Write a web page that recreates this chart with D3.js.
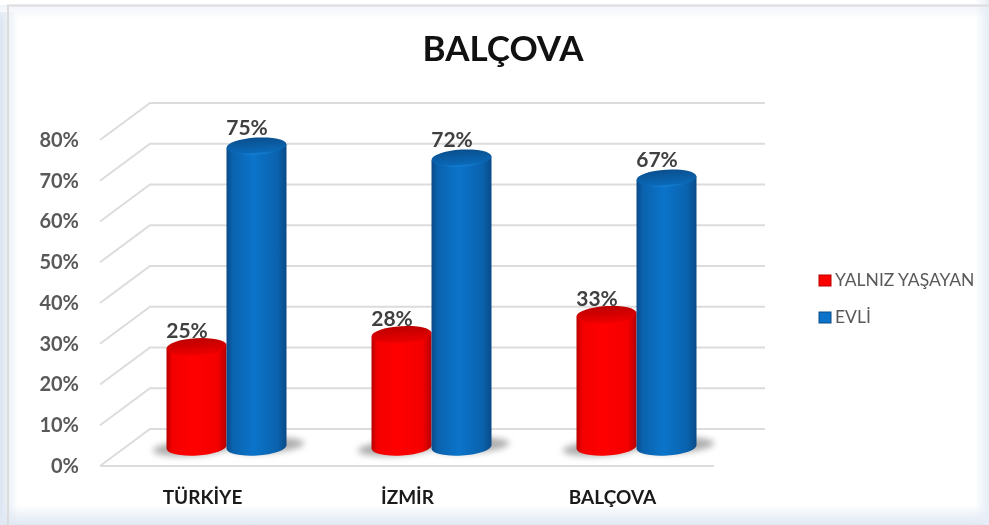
<!DOCTYPE html>
<html>
<head>
<meta charset="utf-8">
<script src="https://cdn.jsdelivr.net/npm/d3@7"></script>
<style>
  html, body { margin: 0; padding: 0; background: #fff; overflow: hidden; }
  text { font-family: Lato, "Open Sans", sans-serif; }
  svg { filter: blur(0.35px); }
</style>
</head>
<body>
<script>
const categories = ["TÜRKİYE", "İZMİR", "BALÇOVA"];
const seriesNames = ["YALNIZ YAŞAYAN", "EVLİ"];
const yalniz = [25, 28, 33];
const evli = [75, 72, 67];
const yTicks = [0, 10, 20, 30, 40, 50, 60, 70, 80];

const width = 989, height = 525;
const colors = {
    "YALNIZ YAŞAYAN": { edge: "#b80000", mid: "#ff0000", side: "#f40000", top: "#e60000", topEdge: "#bd0000", rim: "#f00000" },
    "EVLİ": { edge: "#0a4a88", mid: "#0b74ca", side: "#0a62ad", top: "#0a68b6", topEdge: "#0a4f8e", rim: "#1683d8" }
};

const svg = d3.select("body").append("svg")
    .attr("width", width)
    .attr("height", height)
    .style("display", "block");
const defs = svg.append("defs");

function edgeGradient(id, x2, y2, from) {
    const g = defs.append("linearGradient").attr("id", id)
        .attr("x1", 0).attr("y1", 0).attr("x2", x2).attr("y2", y2);
    g.append("stop").attr("offset", "0%").attr("stop-color", from).attr("stop-opacity", 1);
    g.append("stop").attr("offset", "100%").attr("stop-color", from).attr("stop-opacity", 0);
}
edgeGradient("glowLeft", 1, 0, "#dbe5f1");
edgeGradient("glowTop", 0, 1, "#f0f4fa");

const glowBottom = defs.append("linearGradient").attr("id", "glowBottom")
    .attr("x1", 0).attr("y1", 0).attr("x2", 0).attr("y2", 1);
glowBottom.append("stop").attr("offset", "0%").attr("stop-color", "#dfe8f3").attr("stop-opacity", 0);
glowBottom.append("stop").attr("offset", "100%").attr("stop-color", "#dfe8f3").attr("stop-opacity", 1);

const glowRight = defs.append("linearGradient").attr("id", "glowRight")
    .attr("x1", 0).attr("y1", 0).attr("x2", 1).attr("y2", 0);
glowRight.append("stop").attr("offset", "0%").attr("stop-color", "#e6edf6").attr("stop-opacity", 0);
glowRight.append("stop").attr("offset", "100%").attr("stop-color", "#e6edf6").attr("stop-opacity", 1);

defs.append("filter").attr("id", "shadowBlur")
    .attr("x", "-30%").attr("y", "-100%").attr("width", "160%").attr("height", "300%")
    .append("feGaussianBlur").attr("stdDeviation", 3);

seriesNames.forEach((name, i) => {
    const c = colors[name];
    const body = defs.append("linearGradient").attr("id", "body" + i);
    body.append("stop").attr("offset", "0%").attr("stop-color", c.edge);
    body.append("stop").attr("offset", "10%").attr("stop-color", c.side);
    body.append("stop").attr("offset", "45%").attr("stop-color", c.mid);
    body.append("stop").attr("offset", "85%").attr("stop-color", c.side);
    body.append("stop").attr("offset", "100%").attr("stop-color", c.edge);
    const top = defs.append("linearGradient").attr("id", "top" + i)
        .attr("x1", 0).attr("y1", 0).attr("x2", 0).attr("y2", 1);
    top.append("stop").attr("offset", "0%").attr("stop-color", c.topEdge);
    top.append("stop").attr("offset", "85%").attr("stop-color", c.top);
    top.append("stop").attr("offset", "100%").attr("stop-color", c.rim);
});

// page background, soft blue edges and the grey frame
svg.append("rect").attr("x", 0).attr("y", 12).attr("width", 18).attr("height", height).attr("fill", "url(#glowLeft)");
svg.append("rect").attr("x", 0).attr("y", 5).attr("width", width).attr("height", 14).attr("fill", "url(#glowTop)");
svg.append("rect").attr("x", 0).attr("y", 505).attr("width", width).attr("height", 20).attr("fill", "url(#glowBottom)");
svg.append("rect").attr("x", 975).attr("y", 0).attr("width", 14).attr("height", height).attr("fill", "url(#glowRight)");
svg.append("path").attr("d", "M8,525V5.5H989").attr("fill", "none").attr("stroke", "#dcdcdc").attr("stroke-width", 2);

// 3d walls: the back wall is offset from the front edge by depthX, depthY
const depthX = 50, depthY = 37;
const yFront = d3.scaleLinear().domain([0, 80]).range([466, 140]);
const yBar = d3.scaleLinear().domain([0, 80]).range([447, 126]);
const x = d3.scaleBand().domain(categories).range([124, 739]);
const xSeries = d3.scaleBand().domain(seriesNames).range([-60, 60]);
const xLabel = d3.scaleBand().domain(categories).range([100, 715]);

const grid = svg.append("g").attr("stroke", "#dcdcdc").attr("stroke-width", 2).attr("fill", "none");
grid.selectAll("path")
    .data(yTicks)
    .join("path")
    .attr("d", d => `M100,${yFront(d)}L${100 + depthX},${yFront(d) - depthY}H765`);
grid.append("line")
    .attr("x1", 100).attr("x2", 714)
    .attr("y1", yFront(0)).attr("y2", yFront(0));

// rows for the bars, red first so that blue sits on top
const rows = [];
seriesNames.forEach((name, i) => {
    const values = i === 0 ? yalniz : evli;
    categories.forEach((cat, j) => rows.push({ name, i, cat, value: values[j] }));
});

// cylinder caps lean a little, right side up
const tilt = -3.5;
const rx = xSeries.bandwidth() / 2, ry = 8.5;
const lean = rx * Math.sin(-tilt * Math.PI / 180);
const cx = d => x(d.cat) + x.bandwidth() / 2 + xSeries(d.name) + rx;

svg.append("g").selectAll("ellipse")
    .data(rows)
    .join("ellipse")
    .attr("cx", d => cx(d) + (d.i === 0 ? -5 : 9))
    .attr("cy", d => yBar(0) + (d.i === 0 ? 1 : -1))
    .attr("rx", rx + 9)
    .attr("ry", ry - 1)
    .attr("transform", d => `rotate(${tilt},${cx(d)},${yBar(0)})`)
    .attr("fill", "#777")
    .attr("opacity", 0.6)
    .attr("filter", "url(#shadowBlur)");

const bars = svg.append("g").selectAll("g")
    .data(rows)
    .join("g");

bars.append("path")
    .attr("fill", d => `url(#body${d.i})`)
    .attr("d", d => `M${cx(d) - rx},${yBar(d.value) + lean}`
        + `V${yBar(0) + lean}`
        + `A${rx},${ry} ${tilt} 0 0 ${cx(d) + rx},${yBar(0) - lean}`
        + `V${yBar(d.value) - lean}Z`);

bars.append("ellipse")
    .attr("cx", cx)
    .attr("cy", d => yBar(d.value))
    .attr("rx", rx)
    .attr("ry", ry)
    .attr("transform", d => `rotate(${tilt},${cx(d)},${yBar(d.value)})`)
    .attr("fill", d => `url(#top${d.i})`);

// value labels
svg.append("g").selectAll("text")
    .data(rows)
    .join("text")
    .attr("x", d => cx(d) - 9.5)
    .attr("y", d => yBar(d.value) - (d.i === 0 ? 9 : 11))
    .attr("text-anchor", "middle")
    .attr("font-size", 21)
    .attr("font-weight", 700)
    .attr("fill", "#404040")
    .text(d => d.value + "%");

// axes
const yAxis = svg.append("g")
    .attr("transform", "translate(85,0)")
    .call(d3.axisLeft(yFront).tickValues(yTicks).tickSize(0).tickPadding(6).tickFormat(d => d + "%"));
yAxis.select(".domain").remove();
yAxis.selectAll("text")
    .attr("font-family", "Lato, 'Open Sans', sans-serif")
    .attr("font-size", 20)
    .attr("font-weight", 700)
    .attr("fill", "#595959");

const xAxis = svg.append("g")
    .attr("transform", "translate(0,486)")
    .call(d3.axisBottom(xLabel).tickSize(0).tickPadding(4));
xAxis.select(".domain").remove();
xAxis.selectAll("text")
    .attr("font-family", "Lato, 'Open Sans', sans-serif")
    .attr("font-size", 19)
    .attr("font-weight", 700)
    .attr("fill", "#1a1a1a");

// title
svg.append("text")
    .attr("x", 503)
    .attr("y", 61)
    .attr("text-anchor", "middle")
    .attr("font-size", 35)
    .attr("font-weight", 700)
    .attr("fill", "#111")
    .text("BALÇOVA");

// legend
const legend = svg.append("g").selectAll("g")
    .data(seriesNames)
    .join("g")
    .attr("transform", (d, i) => `translate(819,${275 + i * 37})`);
legend.append("rect")
    .attr("width", 12)
    .attr("height", 11)
    .attr("fill", d => colors[d].mid)
    .attr("stroke", d => colors[d].edge)
    .attr("stroke-width", 1);
legend.append("text")
    .attr("x", 16)
    .attr("y", 11)
    .attr("font-size", 17.5)
    .attr("fill", "#595959")
    .text(d => d);
</script>
</body>
</html>
